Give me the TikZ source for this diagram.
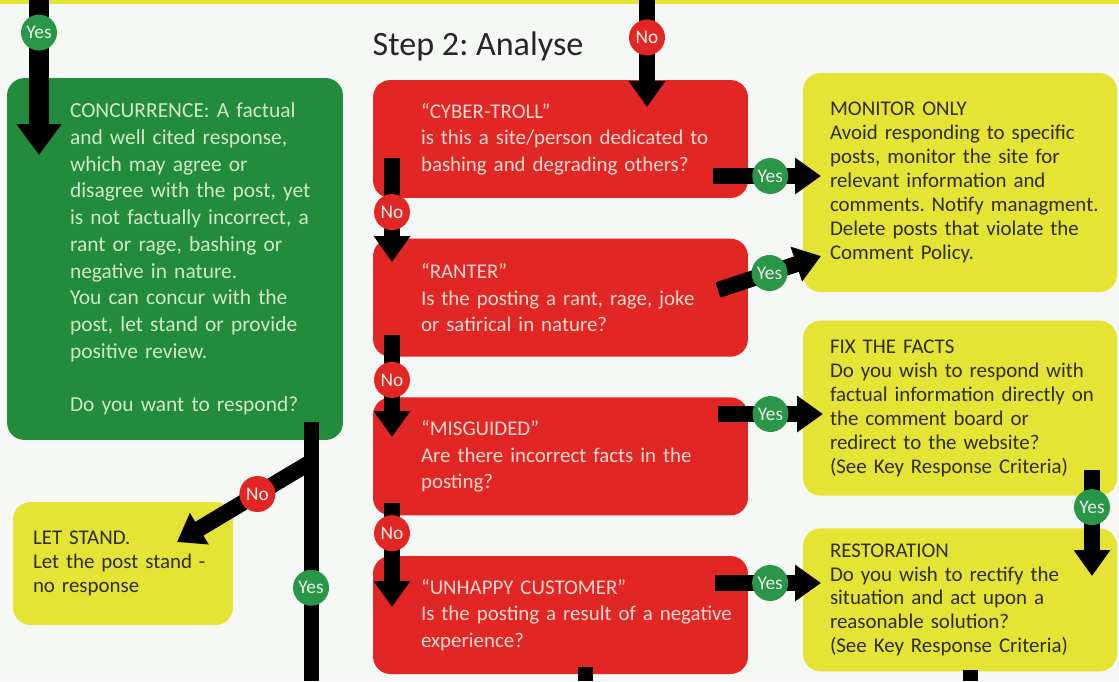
\documentclass[tikz,border=0pt]{standalone}
\usepackage{fontspec}
\setmainfont{Carlito}
\usetikzlibrary{arrows.meta,positioning}
\frenchspacing
\hyphenpenalty=10000

\definecolor{paper}{RGB}{246,248,246}
\definecolor{cgreen}{RGB}{34,139,60}
\definecolor{cgreentxt}{RGB}{208,234,202}
\definecolor{cred}{RGB}{226,38,36}
\definecolor{credtxt}{RGB}{250,218,208}
\definecolor{cyellow}{RGB}{229,227,52}
\definecolor{cyellowtxt}{RGB}{45,45,25}
\definecolor{dotgreen}{RGB}{42,150,72}
\definecolor{dottxt}{RGB}{236,242,232}

\tikzset{
    box/.style={rounded corners=0.35cm, inner xsep=0.1cm, inner ysep=0pt, align=left},
    greenbox/.style={box, fill=cgreen, text=cgreentxt, font=\fontsize{12.2}{15.2}\selectfont},
    redbox/.style={box, fill=cred, text=credtxt, font=\fontsize{11.9}{15}\selectfont,
        minimum width=7.5cm, minimum height=2.36cm, text width=7.3cm, txtpad=0.86cm},
    yellowbox/.style={box, fill=cyellow, text=cyellowtxt, font=\fontsize{11.9}{13.6}\selectfont},
    txtpad/.style={execute at begin node={\leftskip=#1}},
    heading/.style={font=\fontsize{19.4}{22}\selectfont, text=black!85},
    flow/.style={line width=0.32cm, -{Triangle[width=0.7cm,length=0.52cm]}},
    trunk/.style={line width=0.3cm},
    yesdot/.style={circle, fill=dotgreen, text=dottxt, minimum size=0.72cm, inner sep=0pt,
        font=\fontsize{11}{11}\selectfont},
    nodot/.style={yesdot, fill=cred}
}

\begin{document}
\begin{tikzpicture}[x=0.02cm,y=-0.02cm]
    % page, thin yellow band on top
    \useasboundingbox (0,0) rectangle (1119,681);
    \fill[paper] (0,0) rectangle (1119,681);
    \fill[cyellow] (0,0) rectangle (1119,4);

    \node[heading] (title) at (478,46) {Step 2: Analyse};

    % left column
    \node[greenbox, minimum width=6.72cm, minimum height=7.24cm, text width=6.52cm, txtpad=1.16cm]
        (concur) at (175,259) {CONCURRENCE: A factual\\and well cited response,\\which may agree or\\disagree with the post, yet\\is not factually incorrect, a\\rant or rage, bashing or\\negative in nature.\\You can concur with the\\post, let stand or provide\\positive review.\\[15.2pt]Do you want to respond?};
    \node[yellowbox, minimum width=4.4cm, minimum height=2.46cm, text width=4.2cm, txtpad=0.3cm]
        (letstand) at (123,563.5) {LET STAND.\\Let the post stand -\\no response};

    % middle column, the four questions
    \node[redbox] (troll) at (560.5,139) {“CYBER-TROLL”\\is this a site/person dedicated to\\bashing and degrading others?};
    \node[redbox, below=0.8cm of troll] (ranter) {“RANTER”\\Is the posting a rant, rage, joke\\or satirical in nature?};
    \node[redbox, below=0.8cm of ranter] (misguided) {“MISGUIDED”\\Are there incorrect facts in the\\posting?};
    \node[redbox, below=0.8cm of misguided] (unhappy) {“UNHAPPY CUSTOMER”\\Is the posting a result of a negative\\experience?};

    % right column
    \node[yellowbox, minimum width=6.28cm, minimum height=4.38cm, text width=6.08cm, txtpad=0.44cm]
        (monitor) at (960,182.5) {MONITOR ONLY\\Avoid responding to specific\\posts, monitor the site for\\relevant information and\\comments. Notify managment.\\Delete posts that violate the\\Comment Policy.};
    \node[yellowbox, minimum width=6.28cm, minimum height=3.5cm, text width=6.08cm, txtpad=0.44cm,
        below=0.56cm of monitor] (fix) {FIX THE FACTS\\Do you wish to respond with\\factual information directly on\\the comment board or\\redirect to the website?\\(See Key Response Criteria)};
    \node[yellowbox, minimum width=6.28cm, minimum height=2.86cm, text width=6.08cm, txtpad=0.44cm,
        below=0.64cm of fix] (restore) {RESTORATION\\Do you wish to rectify the\\situation and act upon a\\reasonable solution?\\(See Key Response Criteria)};

    % arrow ends
    \coordinate (inyes) at (39,0);      \coordinate (inyesend) at (39,155);
    \coordinate (inno) at (647,0);      \coordinate (innoend) at (647,107);
    \coordinate (trollno) at (392,158); \coordinate (trollnoend) at (392,262);
    \coordinate (rantno) at (392,335);  \coordinate (rantnoend) at (392,437);
    \coordinate (misno) at (392,503);   \coordinate (misnoend) at (392,607);
    \coordinate (trollyes) at (713,176); \coordinate (trollyesend) at (821,176);
    \coordinate (rantyes) at (718,290); \coordinate (rantyesend) at (821,256);
    \coordinate (misyes) at (718,414);  \coordinate (misyesend) at (823,414);
    \coordinate (unhyes) at (715,583);  \coordinate (unhyesend) at (821,583);
    \coordinate (fixyes) at (1092,470); \coordinate (fixyesend) at (1092,576);
    \coordinate (concout) at (311,422); \coordinate (concoutend) at (311,681);
    \coordinate (concno) at (311,462);  \coordinate (concnoend) at (177,542);
    \coordinate (unhout) at (585,667);  \coordinate (unhoutend) at (585,681);
    \coordinate (restout) at (970,670); \coordinate (restoutend) at (970,681);

    % arrows coming in from step 1
    \draw[flow, line width=0.42cm, -{Triangle[width=0.86cm,length=0.62cm]}] (inyes) -- (inyesend)
        node[yesdot, pos=0.21] (dotinyes) {Yes};
    \draw[flow] (inno) -- (innoend) node[nodot, pos=0.35] (dotinno) {No};

    % down the questions
    \draw[flow] (trollno) -- (trollnoend) node[nodot, pos=0.52] (dottrollno) {No};
    \draw[flow] (rantno) -- (rantnoend) node[nodot, pos=0.44] (dotrantno) {No};
    \draw[flow] (misno) -- (misnoend) node[nodot, pos=0.29] (dotmisno) {No};
    \draw[trunk] (unhout) -- (unhoutend);

    % over to the responses
    \draw[flow] (trollyes) -- (trollyesend) node[yesdot, pos=0.53] (dottrollyes) {Yes};
    \draw[flow] (rantyes) -- (rantyesend) node[yesdot, pos=0.5] (dotrantyes) {Yes};
    \draw[flow] (misyes) -- (misyesend) node[yesdot, pos=0.5] (dotmisyes) {Yes};
    \draw[flow] (unhyes) -- (unhyesend) node[yesdot, pos=0.52] (dotunhyes) {Yes};
    \draw[flow] (fixyes) -- (fixyesend) node[yesdot, pos=0.35] (dotfixyes) {Yes};
    \draw[trunk] (restout) -- (restoutend);

    % respond or let stand
    \draw[trunk] (concout) -- (concoutend) node[yesdot, pos=0.64] (dotconcyes) {Yes};
    \draw[flow] (concno) -- (concnoend) node[nodot, pos=0.4] (dotconcno) {No};
\end{tikzpicture}
\end{document}
